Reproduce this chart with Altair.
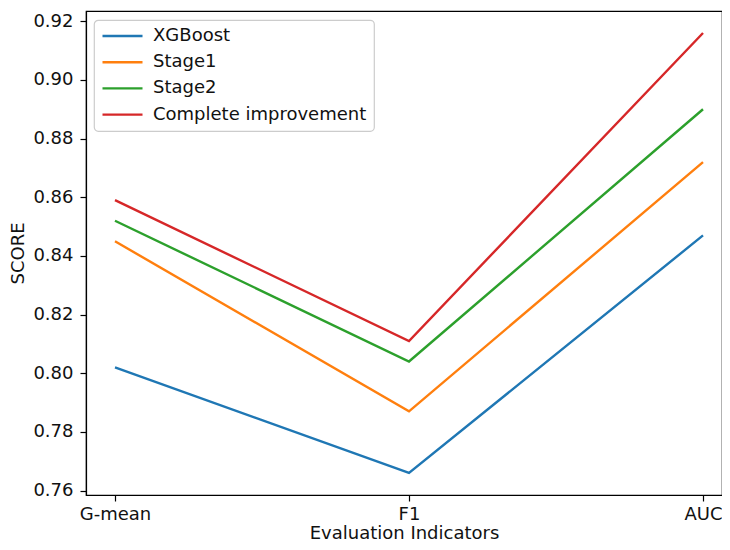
import altair as alt
import pandas as pd

indicators = ["G-mean", "F1", "AUC"]
models = ["XGBoost", "Stage1", "Stage2", "Complete improvement"]
xgboost = [0.802, 0.766, 0.847]
stage1 = [0.845, 0.787, 0.872]
stage2 = [0.852, 0.804, 0.890]
complete = [0.859, 0.811, 0.916]
colors = ["#1f77b4", "#ff7f0e", "#2ca02c", "#d62728"]
y_ticks = [0.76, 0.78, 0.80, 0.82, 0.84, 0.86, 0.88, 0.90, 0.92]

series = [xgboost, stage1, stage2, complete]
rows = []
for m, vals in zip(models, series):
    for i, v in enumerate(vals):
        rows.append({"idx": i, "indicator": indicators[i], "model": m, "score": v})
df = pd.DataFrame(rows)

label_expr = "[" + ",".join("'" + s + "'" for s in indicators) + "][datum.value]"

FONT = "DejaVu Sans"

chart = alt.Chart(df).mark_line(strokeWidth=2.4).encode(
    x=alt.X("idx:Q",
            scale=alt.Scale(domain=[-0.0986, 2.0646], nice=False, zero=False),
            axis=alt.Axis(values=[0, 1, 2], labelExpr=label_expr, grid=False,
                          title="Evaluation Indicators", labelPadding=4,
                          titlePadding=1.2)),
    y=alt.Y("score:Q",
            scale=alt.Scale(domain=[0.7585, 0.9235], nice=False, zero=False),
            axis=alt.Axis(values=y_ticks, format=".2f", grid=False, title="SCORE",
                          labelPadding=7, titlePadding=5)),
    color=alt.Color("model:N",
                    scale=alt.Scale(domain=models, range=colors),
                    sort=models,
                    legend=alt.Legend(title=None, orient="none", legendX=8, legendY=9,
                                      symbolType="stroke", symbolSize=1600,
                                      symbolStrokeWidth=2.4, clipHeight=18,
                                      rowPadding=8.2, labelOffset=9, labelLimit=500,
                                      labelFontSize=18, labelFont=FONT, labelColor="#111",
                                      padding=7, fillColor="white",
                                      strokeColor="#cccccc",
                                      cornerRadius=4)),
    detail="model:N",
).properties(
    width=636, height=484,
    autosize=alt.AutoSizeParams(type="none"),
    padding={"left": 78, "top": 3, "right": 0, "bottom": 47},
).configure_view(
    stroke="black", strokeWidth=1.2
).configure_axis(
    domainColor="black", domainWidth=1.2, tickColor="black", tickWidth=1.2,
    tickSize=6, labelFont=FONT, labelFontSize=18,
    labelColor="#111", titleFont=FONT, titleFontSize=18, titleFontWeight="normal",
    titleColor="#111"
).configure_legend(
    strokeWidth=1.2
)

chart.save("out.html", embed_options={"renderer": "svg", "actions": False})
